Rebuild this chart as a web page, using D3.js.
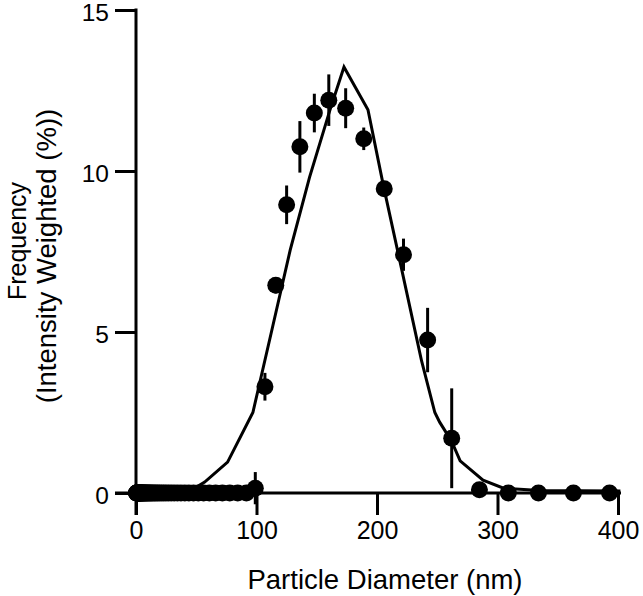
<!DOCTYPE html>
<html>
<head>
<meta charset="utf-8">
<script src="https://cdn.jsdelivr.net/npm/d3@7"></script>
<style>
  body { margin: 0; background: #fff; }
  svg text { font-family: "Liberation Sans", Arial, sans-serif; fill: #000; }
</style>
</head>
<body>
<script>
// particle size distribution, DLS data with fit line

// measured bins (nm)
var sizes = [0.4, 0.5, 0.6, 0.7, 0.8, 0.9, 1.0, 1.1, 1.2, 1.3, 1.5, 1.6, 1.8, 1.9, 2.1, 2.3,
             2.5, 2.7, 2.9, 3.2, 3.5, 3.8, 4.1, 4.4, 4.8, 5.2, 5.7, 6.2, 6.7, 7.3, 7.9, 8.6,
             9.3, 10.1, 11.0, 11.9, 12.9, 14.0, 15.2, 16.5, 17.9, 19.4, 21.1, 22.9, 24.8,
             26.9, 29.2, 31.7, 34.4, 37.3, 40.5, 43.9, 47.7, 51.7, 56.1, 60.9, 66.1, 71.7,
             77.8, 84.4, 91.6, 99, 107, 116, 125, 136, 148, 160, 174, 189, 206, 222, 242,
             262, 285, 309, 334, 363, 393];
// mean frequency (%)
var freq = [0, 0, 0, 0, 0, 0, 0, 0, 0, 0, 0, 0, 0, 0, 0, 0,
            0, 0, 0, 0, 0, 0, 0, 0, 0, 0, 0, 0, 0, 0, 0, 0,
            0, 0, 0, 0, 0, 0, 0, 0, 0, 0, 0, 0, 0,
            0, 0, 0, 0, 0, 0, 0, 0, 0, 0, 0, 0, 0,
            0, 0, 0, 0.15, 3.3, 6.45, 8.95, 10.75, 11.8, 12.2, 11.95, 11.0, 9.45, 7.4, 4.75,
            1.7, 0.1, 0, 0, 0, 0];
// standard deviation (%)
var err = [0, 0, 0, 0, 0, 0, 0, 0, 0, 0, 0, 0, 0, 0, 0, 0,
           0, 0, 0, 0, 0, 0, 0, 0, 0, 0, 0, 0, 0, 0, 0, 0,
           0, 0, 0, 0, 0, 0, 0, 0, 0, 0, 0, 0, 0,
           0, 0, 0, 0, 0, 0, 0, 0, 0, 0, 0, 0, 0,
           0, 0, 0, 0.5, 0.43, 0.25, 0.6, 0.8, 0.6, 0.8, 0.62, 0.35, 0.1, 0.5, 1.0,
           1.55, 0, 0, 0, 0, 0];

// fitted curve
var fitSize = [0, 42, 57, 76, 97, 113, 128, 144, 161, 172.6, 192.5, 205, 219, 237, 248, 252,
               262, 269, 288, 305, 335, 402];
var fitFreq = [0, 0, 0.34, 0.96, 2.5, 5.1, 7.55, 9.8, 11.9, 13.23, 11.9, 9.6, 7.2, 4.1, 2.5, 2.2,
               1.6, 1.0, 0.4, 0.15, 0.08, 0.06];

var xTicks = [0, 100, 200, 300, 400];
var yTicks = [0, 5, 10, 15];

var width = 643, height = 596;

var svg = d3.select("body").append("svg")
    .attr("width", width)
    .attr("height", height);

var x = d3.scaleLinear().domain([0, 400]).range([136, 618]);
var y = d3.scaleLinear().domain([0, 15]).range([493, 10]);

// axes
var xAxis = svg.append("g")
    .attr("transform", "translate(0," + y(0) + ")")
    .call(d3.axisBottom(x).tickValues(xTicks).tickSize(22).tickPadding(6).tickFormat(d3.format("d")));
var yAxis = svg.append("g")
    .attr("transform", "translate(" + x(0) + ",0)")
    .call(d3.axisLeft(y).tickValues(yTicks).tickSize(21).tickPadding(6).tickFormat(d3.format("d")));

[xAxis, yAxis].forEach(function(g){
  g.select(".domain").remove();
  g.selectAll(".tick line").attr("stroke", "#000").attr("stroke-width", 3);
  g.selectAll(".tick text").attr("font-size", 25).attr("fill", "#000")
    .style("font-family", "'Liberation Sans', Arial, sans-serif");
});
yAxis.selectAll(".tick text").attr("font-size", 24.5).attr("dy", "0.42em");

// axis lines, extended past the origin like the original
svg.append("line")
    .attr("x1", x(0) - 21).attr("x2", x(400) + 3)
    .attr("y1", y(0)).attr("y2", y(0))
    .attr("stroke", "#000").attr("stroke-width", 3);
svg.append("line")
    .attr("x1", x(0)).attr("x2", x(0))
    .attr("y1", y(15) - 1.5).attr("y2", y(0) + 22)
    .attr("stroke", "#000").attr("stroke-width", 3);

// fit line
var line = d3.line()
    .x(function(d, i){ return x(fitSize[i]); })
    .y(function(d){ return y(d); });
svg.append("path")
    .datum(fitFreq)
    .attr("d", line)
    .attr("fill", "none")
    .attr("stroke", "#000")
    .attr("stroke-width", 3)
    .attr("stroke-linejoin", "miter");

// error bars
svg.selectAll(".err")
    .data(sizes.map(function(s, i){ return {s: s, f: freq[i], e: err[i]}; })
      .filter(function(d){ return d.e > 0; }))
    .enter().append("line")
    .attr("class", "err")
    .attr("x1", function(d){ return x(d.s); })
    .attr("x2", function(d){ return x(d.s); })
    .attr("y1", function(d){ return y(d.f + d.e); })
    .attr("y2", function(d){ return y(d.f - d.e); })
    .attr("stroke", "#000")
    .attr("stroke-width", 3);

// points
svg.selectAll(".pt")
    .data(sizes)
    .enter().append("circle")
    .attr("class", "pt")
    .attr("cx", function(d){ return x(d); })
    .attr("cy", function(d, i){ return y(freq[i]); })
    .attr("r", 8.5)
    .attr("fill", "#000");

// titles
svg.append("text")
    .attr("x", 385).attr("y", 589)
    .attr("text-anchor", "middle")
    .attr("font-size", 27.5)
    .text("Particle Diameter (nm)");

svg.append("text")
    .attr("transform", "translate(26,241) rotate(-90)")
    .attr("text-anchor", "middle")
    .attr("font-size", 25)
    .text("Frequency");
svg.append("text")
    .attr("transform", "translate(56,256) rotate(-90)")
    .attr("text-anchor", "middle")
    .attr("font-size", 27.5)
    .text("(Intensity Weighted (%))");
</script>
</body>
</html>
